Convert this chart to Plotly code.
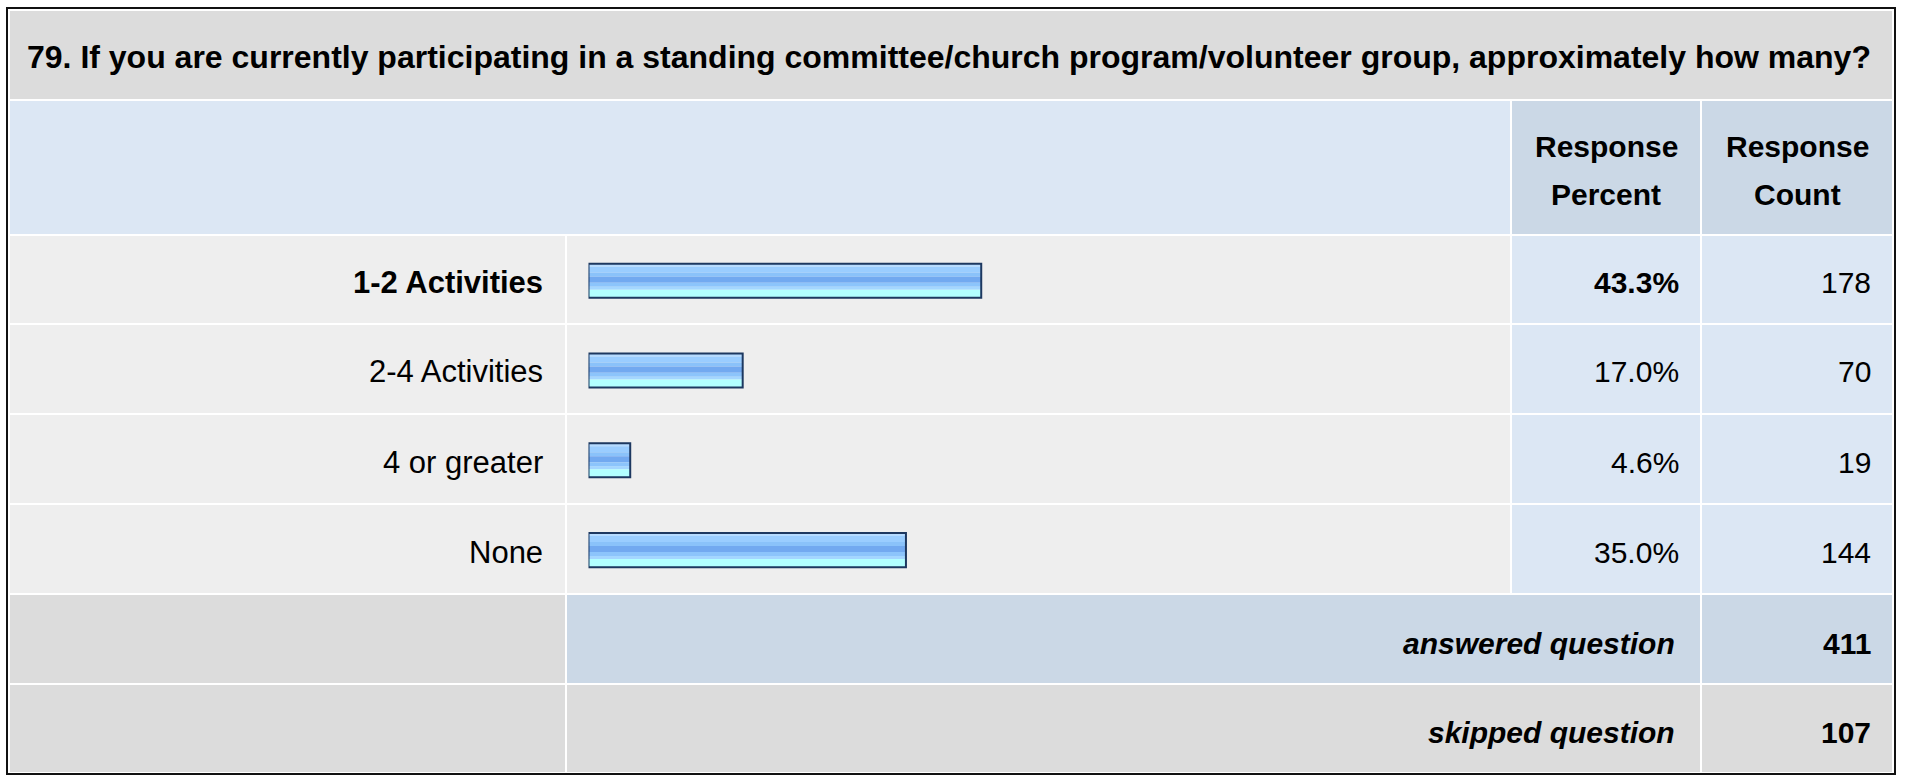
import plotly.graph_objects as go

# ---------------- data ----------------
question = ("79. If you are currently participating in a standing committee/church "
            "program/volunteer group, approximately how many?")
categories = ["1-2 Activities", "2-4 Activities", "4 or greater", "None"]
response_percent = [43.3, 17.0, 4.6, 35.0]
response_count = [178, 70, 19, 144]
answered_question = 411
skipped_question = 107
header_percent = ["Response", "Percent"]
header_count = ["Response", "Count"]

# ---------------- geometry helpers (pixel -> paper) ----------------
W, H = 1907, 777
FONT = "Liberation Sans, Arial, sans-serif"


def px(x):
    return x / W


def py(y):
    return 1 - y / H


shapes = []


def cell(x0, y0, x1, y1, color):
    shapes.append(dict(type="rect", xref="paper", yref="paper",
                       x0=px(x0), x1=px(x1), y0=py(y1), y1=py(y0),
                       fillcolor=color, line=dict(width=0), layer="below"))


GRAY = "#dcdcdc"
LIGHTBLUE = "#dce7f4"
MIDBLUE = "#cbd8e6"
ROWGRAY = "#eeeeee"

# columns
COL_LABEL = (10, 565)
COL_BAR = (567, 1510)
COL_PCT = (1512, 1700)
COL_CNT = (1702, 1892)

# rows
ROW_TITLE = (11, 99)
ROW_HEAD = (101, 234)
ROW_DATA = [(236, 323), (325, 413), (415, 503), (505, 593)]
ROW_ANS = (595, 683)
ROW_SKIP = (685, 772)

cell(10, ROW_TITLE[0], 1892, ROW_TITLE[1], GRAY)
cell(10, ROW_HEAD[0], COL_BAR[1], ROW_HEAD[1], LIGHTBLUE)
cell(COL_PCT[0], ROW_HEAD[0], COL_PCT[1], ROW_HEAD[1], MIDBLUE)
cell(COL_CNT[0], ROW_HEAD[0], COL_CNT[1], ROW_HEAD[1], MIDBLUE)
for (r0, r1) in ROW_DATA:
    cell(COL_LABEL[0], r0, COL_LABEL[1], r1, ROWGRAY)
    cell(COL_BAR[0], r0, COL_BAR[1], r1, ROWGRAY)
    cell(COL_PCT[0], r0, COL_PCT[1], r1, LIGHTBLUE)
    cell(COL_CNT[0], r0, COL_CNT[1], r1, LIGHTBLUE)
cell(COL_LABEL[0], ROW_ANS[0], COL_LABEL[1], ROW_ANS[1], GRAY)
cell(COL_BAR[0], ROW_ANS[0], COL_PCT[1], ROW_ANS[1], MIDBLUE)
cell(COL_CNT[0], ROW_ANS[0], COL_CNT[1], ROW_ANS[1], MIDBLUE)
cell(COL_LABEL[0], ROW_SKIP[0], COL_LABEL[1], ROW_SKIP[1], GRAY)
cell(COL_BAR[0], ROW_SKIP[0], COL_PCT[1], ROW_SKIP[1], GRAY)
cell(COL_CNT[0], ROW_SKIP[0], COL_CNT[1], ROW_SKIP[1], GRAY)

# outer frame
shapes.append(dict(type="rect", xref="paper", yref="paper",
                   x0=px(7), x1=px(1895), y0=py(774), y1=py(8),
                   fillcolor="rgba(0,0,0,0)", line=dict(width=2, color="#111111"),
                   layer="above"))

# ---------------- text ----------------
annotations = []


def text(x, y, s, anchor="left", size=30, bold=False, italic=False):
    t = s
    if bold:
        t = "<b>" + t + "</b>"
    if italic:
        t = "<i>" + t + "</i>"
    annotations.append(dict(xref="paper", yref="paper", x=px(x), y=py(y),
                            text=t, showarrow=False, xanchor=anchor,
                            yanchor="middle",
                            font=dict(family=FONT, size=size, color="#000000")))


text(25, 57, question, "left", size=32, bold=True)
text(1606, 146, header_percent[0], "center", bold=True)
text(1606, 195, header_percent[1], "center", bold=True)
text(1797, 146, header_count[0], "center", bold=True)
text(1797, 195, header_count[1], "center", bold=True)

top_idx = response_percent.index(max(response_percent))
for i, ((r0, r1), lab, p, c) in enumerate(zip(ROW_DATA, categories,
                                              response_percent, response_count)):
    yc = (r0 + r1) / 2 + 3
    text(545, yc, lab, "right", size=31, bold=(i == top_idx))
    text(1681, yc, f"{p:.1f}%", "right", bold=(i == top_idx))
    text(1873, yc, str(c), "right")

yc = (ROW_ANS[0] + ROW_ANS[1]) / 2 + 4
text(1677, yc, "answered question", "right", bold=True, italic=True)
text(1873, yc, str(answered_question), "right", bold=True)
yc = (ROW_SKIP[0] + ROW_SKIP[1]) / 2 + 4
text(1677, yc, "skipped question", "right", bold=True, italic=True)
text(1873, yc, str(skipped_question), "right", bold=True)

# ---------------- bars ----------------
ROW_PITCH = (595 - 236) / 4.0      # pixels per category unit
INNER = 34                          # inner bar thickness in px
idx = list(range(len(categories)))

# gradient stripes: (offset from bar top px, thickness px, colour)
stripes = [
    (0, 3, "#b6dbff"),
    (3, 6, "#9acdff"),
    (9, 4, "#8ac2fa"),
    (13, 6, "#72a9f0"),
    (19, 4, "#8cc4fb"),
    (23, 3, "#a4d6ff"),
    (26, 8, "#b2ffff"),
]

fig = go.Figure()
for (t, h, col) in stripes:
    fig.add_trace(go.Bar(
        x=response_percent, y=idx, orientation="h",
        width=h / ROW_PITCH, offset=(t - INNER / 2) / ROW_PITCH,
        marker=dict(color=col, line=dict(width=0)),
        hoverinfo="skip", showlegend=False))
# outline
fig.add_trace(go.Bar(
    x=response_percent, y=idx, orientation="h",
    width=INNER / ROW_PITCH, offset=-INNER / 2 / ROW_PITCH,
    marker=dict(color="rgba(0,0,0,0)", line=dict(width=2, color="#1d3860")),
    hoverinfo="skip", showlegend=False))

X0 = 588.5
PX_PER_PCT = 9.07
fig.update_layout(
    width=W, height=H,
    margin=dict(l=0, r=0, t=0, b=0, pad=0),
    paper_bgcolor="#ffffff", plot_bgcolor="rgba(0,0,0,0)",
    barmode="overlay",
    showlegend=False,
    xaxis=dict(domain=[px(X0), px(X0 + 100 * PX_PER_PCT)], range=[0, 100],
               visible=False, fixedrange=True),
    yaxis=dict(domain=[py(595), py(236)], range=[3.5, -0.5], visible=False,
               fixedrange=True),
    shapes=shapes,
    annotations=annotations,
    font=dict(family=FONT),
)

fig.write_html("out.html", config={"displayModeBar": False},
               post_script="document.body.style.margin='0px';"
                           "document.body.style.overflow='hidden';")
